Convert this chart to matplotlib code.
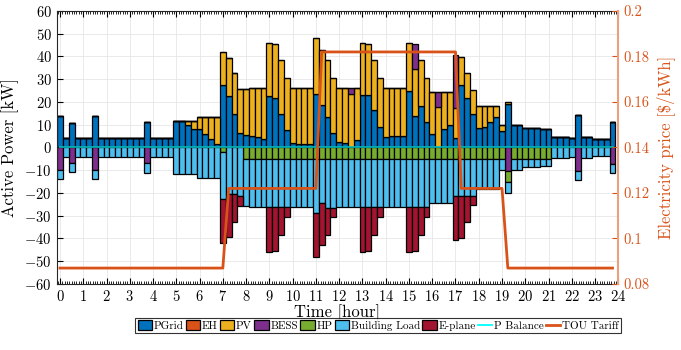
import numpy as np
import matplotlib
matplotlib.use('Agg')
import matplotlib.pyplot as plt
from matplotlib.patches import Patch
from matplotlib.lines import Line2D
from matplotlib.ticker import MultipleLocator, FormatStrFormatter

plt.rcParams['font.family'] = ['cmr10', 'DejaVu Serif']
plt.rcParams['mathtext.fontset'] = 'cm'
plt.rcParams['axes.formatter.use_mathtext'] = True

# 15 min time steps
hours = np.arange(0, 24, 0.25)

# power flows [kW], one row = 2 hours
pgrid = [
    14.0, 4.0, 10.9, 4.0, 4.0, 4.0, 14.0, 4.0,
    4.0, 4.0, 4.0, 4.0, 4.3, 4.3, 4.3, 11.0,
    4.3, 4.3, 4.3, 4.3, 11.6, 11.6, 9.9, 8.1,
    8.0, 5.9, 3.6, 1.4, 27.5, 22.6, 14.6, 6.2,
    5.3, 5.0, 4.5, 3.9, 22.8, 21.9, 14.7, 7.5,
    2.0, 1.5, 1.5, 1.5, 23.4, 18.6, 13.6, 6.2,
    2.3, 2.1, 0.3, 3.3, 22.9, 22.9, 16.5, 9.2,
    4.8, 5.2, 5.2, 5.2, 24.8, 13.8, 18.2, 11.1,
    5.9, 0.3, 8.1, 9.9, 4.0, 27.5, 21.6, 14.6,
    8.4, 9.2, 11.4, 13.3, 7.3, 19.3, 9.9, 9.9,
    8.6, 8.6, 8.6, 8.3, 8.3, 4.5, 4.5, 4.5,
    4.2, 14.3, 4.5, 4.5, 3.9, 3.9, 3.9, 11.2,
]
eh = [
    0, 0, 0, 0, 0, 0, 0, 0,
    0, 0, 0, 0, 0, 0, 0, 0,
    0, 0, 0, 0, 0, 0, 0, 0,
    0, 0, 0, 0, 0, 0, 0, 0,
    0, 0, 0, 0, 0, 0, 0, 0,
    0, 0, 0, 0, 0, 0, 0, 0,
    0, 0, 0, 0, 0, 0, 0, 0,
    0, 0, 0, 0, 0, 0, 0, 0,
    0, 0, 0, 0, 0, 0, 0, 0,
    0, 0, 0, 0, 0, 0, 0, 0,
    0, 0, 0, 0, 0, 0, 0, 0,
    0, 0, 0, 0, 0, 0, 0, 0,
]
pv = [
    0, 0, 0, 0, 0, 0, 0, 0,
    0, 0, 0, 0, 0, 0, 0, 0,
    0, 0, 0, 0, 0, 0, 1.7, 3.5,
    5.3, 7.4, 9.7, 11.9, 14.3, 16.9, 18.0, 19.4,
    20.2, 21.0, 21.5, 22.1, 23.0, 23.4, 23.7, 23.2,
    24.2, 24.7, 24.7, 24.7, 24.9, 24.4, 24.7, 24.3,
    23.9, 24.1, 23.3, 22.9, 22.9, 22.4, 22.0, 21.5,
    21.5, 21.1, 21.1, 21.1, 21.0, 20.8, 20.3, 19.6,
    18.6, 17.3, 16.4, 14.6, 13.3, 12.4, 11.3, 10.7,
    9.8, 9.0, 6.8, 4.9, 2.6, 0.7, 0, 0,
    0, 0, 0, 0, 0, 0, 0, 0,
    0, 0, 0, 0, 0, 0, 0, 0,
]
bess = [
    -10.0, 0, -6.9, 0, 0, 0, -10.0, 0,
    0, 0, 0, 0, 0, 0, 0, -7.0,
    0, 0, 0, 0, 0, 0, 0, 0,
    0, 0, 0, 0, 0, 0, 0, 0,
    0, 0, 0, 0, 0, 0, 0, 0,
    0, 0, 0, 0, 0, 0, 0, 0,
    0, 0, 2.6, 0, 0, 0, 0, 0,
    0, 0, 0, 0, 0, 11.0, 0, 0,
    0, 6.9, 0, 0, 23.4, 0, 0, 0,
    0, 0, 0, 0, 0, -10.3, 0, 0,
    0, 0, 0, 0, 0, 0, 0, 0,
    0, -10.2, 0, 0, 0, 0, 0, -7.2,
]
hp = [
    0, 0, 0, 0, 0, 0, 0, 0,
    0, 0, 0, 0, 0, 0, 0, 0,
    0, 0, 0, 0, 0, 0, 0, 0,
    0, 0, 0, 0, -1.8, 0, 0, 0,
    -5.0, -5.0, -5.0, -5.0, -5.0, -5.0, -5.0, -5.0,
    -5.0, -5.0, -5.0, -5.0, -5.0, -5.0, -5.0, -5.0,
    -5.0, -5.0, -5.0, -5.0, -5.0, -5.0, -5.0, -5.0,
    -5.0, -5.0, -5.0, -5.0, -5.0, -5.0, -5.0, -5.0,
    -5.0, -5.0, -5.0, -5.0, -5.0, -5.0, -5.0, -5.0,
    -5.0, -5.0, -5.0, -5.0, -5.0, -4.7, -5.0, -5.0,
    -5.0, -5.0, -5.0, -5.0, -5.0, 0, 0, 0,
    0, 0, 0, 0, 0, 0, 0, 0,
]
load = [
    -4.0, -4.0, -4.0, -4.0, -4.0, -4.0, -4.0, -4.0,
    -4.0, -4.0, -4.0, -4.0, -4.3, -4.3, -4.3, -4.0,
    -4.3, -4.3, -4.3, -4.3, -11.6, -11.6, -11.6, -11.6,
    -13.3, -13.3, -13.3, -13.3, -21.0, -20.6, -20.6, -21.3,
    -20.5, -21.0, -21.0, -21.0, -21.3, -21.3, -21.3, -21.3,
    -21.2, -21.2, -21.2, -21.2, -23.8, -19.3, -21.4, -21.4,
    -21.2, -21.2, -21.2, -21.2, -21.3, -21.3, -21.3, -21.3,
    -21.3, -21.3, -21.3, -21.3, -21.3, -21.3, -21.3, -21.3,
    -19.5, -19.5, -19.5, -19.5, -16.2, -16.2, -16.2, -16.2,
    -13.2, -13.2, -13.2, -13.2, -4.9, -5.0, -4.9, -4.9,
    -3.6, -3.6, -3.6, -3.3, -3.3, -4.5, -4.5, -4.5,
    -4.2, -4.1, -4.5, -4.5, -3.9, -3.9, -3.9, -4.0,
]
eplane = [
    0, 0, 0, 0, 0, 0, 0, 0,
    0, 0, 0, 0, 0, 0, 0, 0,
    0, 0, 0, 0, 0, 0, 0, 0,
    0, 0, 0, 0, -19.0, -18.9, -12.0, -4.3,
    0, 0, 0, 0, -19.5, -19.0, -12.1, -4.4,
    0, 0, 0, 0, -19.5, -18.7, -11.9, -4.1,
    0, 0, 0, 0, -19.5, -19.0, -12.2, -4.4,
    0, 0, 0, 0, -19.5, -19.3, -12.2, -4.4,
    0, 0, 0, 0, -19.5, -18.7, -11.7, -4.1,
    0, 0, 0, 0, 0, 0, 0, 0,
    0, 0, 0, 0, 0, 0, 0, 0,
    0, 0, 0, 0, 0, 0, 0, 0,
]
# time of use tariff [$/kWh]
tou = [
    0.087, 0.087, 0.087, 0.087, 0.087, 0.087, 0.087, 0.087,
    0.087, 0.087, 0.087, 0.087, 0.087, 0.087, 0.087, 0.087,
    0.087, 0.087, 0.087, 0.087, 0.087, 0.087, 0.087, 0.087,
    0.087, 0.087, 0.087, 0.087, 0.087, 0.122, 0.122, 0.122,
    0.122, 0.122, 0.122, 0.122, 0.122, 0.122, 0.122, 0.122,
    0.122, 0.122, 0.122, 0.122, 0.122, 0.182, 0.182, 0.182,
    0.182, 0.182, 0.182, 0.182, 0.182, 0.182, 0.182, 0.182,
    0.182, 0.182, 0.182, 0.182, 0.182, 0.182, 0.182, 0.182,
    0.182, 0.182, 0.182, 0.182, 0.182, 0.122, 0.122, 0.122,
    0.122, 0.122, 0.122, 0.122, 0.122, 0.087, 0.087, 0.087,
    0.087, 0.087, 0.087, 0.087, 0.087, 0.087, 0.087, 0.087,
    0.087, 0.087, 0.087, 0.087, 0.087, 0.087, 0.087, 0.087,
]

series = [
    ('PGrid', pgrid, '#0072BD'),
    ('EH', eh, '#D95319'),
    ('PV', pv, '#EDB120'),
    ('BESS', bess, '#7E2F8E'),
    ('HP', hp, '#77AC30'),
    ('Building Load', load, '#4DBEEE'),
    ('E-plane', eplane, '#A2142F'),
]
orange = '#D95319'

fig = plt.figure(figsize=(6.81, 3.5), dpi=100)
ax = fig.add_axes([0.0833, 0.1886, 0.8247, 0.780])

pos_base = np.zeros(len(hours))
neg_base = np.zeros(len(hours))
handles = []
for name, vals, col in series:
    v = np.array(vals, dtype=float)
    base = np.where(v >= 0, pos_base, neg_base)
    ax.bar(hours, v, width=0.25, bottom=base, color=col,
           edgecolor='black', linewidth=0.9, zorder=2)
    pos_base += np.clip(v, 0, None)
    neg_base += np.clip(v, None, 0)
    handles.append(Patch(facecolor=col, edgecolor='black', linewidth=0.9, label=name))

# sum of all flows, should sit on zero
ax.plot(hours, pos_base + neg_base, color='#00c8c8', lw=1.4,
        alpha=0.8, zorder=3)
handles.append(Line2D([], [], color='#00ffff', lw=1.3, label='P Balance'))

ax.set_xlim(-0.14, 24)
ax.set_ylim(-60, 60)
ax.set_xticks(range(0, 25))
ax.xaxis.set_minor_locator(MultipleLocator(0.1))
ax.set_yticks(range(-60, 61, 10))
ax.grid(True, which='major', color='#e6e6e6', lw=0.6, zorder=0)
ax.set_axisbelow(True)
ax.tick_params(axis='x', which='both', direction='in', top=True, labelsize=10.5)
ax.tick_params(axis='x', which='major', length=4)
ax.tick_params(axis='x', which='minor', length=2)
ax.tick_params(axis='y', direction='in', length=4, labelsize=10.5)
for s in ['left', 'top', 'bottom']:
    ax.spines[s].set_color('#262626')
    ax.spines[s].set_linewidth(0.8)
ax.spines['right'].set_visible(False)
ax.set_xlabel('Time [hour]', fontsize=12, labelpad=0)
ax.set_ylabel('Active Power [kW]', fontsize=12, labelpad=4)

ax2 = ax.twinx()
ax2.plot(hours, tou, color=orange, lw=2, zorder=4)
ax2.set_ylim(0.08, 0.2)
ax2.set_yticks([0.08, 0.1, 0.12, 0.14, 0.16, 0.18, 0.2])
ax2.yaxis.set_major_formatter(FormatStrFormatter('%g'))
ax2.tick_params(axis='y', direction='in', length=4, colors=orange, labelsize=10.5)
ax2.spines['right'].set_color('#eba07f')
ax2.spines['right'].set_linewidth(1.5)
for s in ['left', 'top', 'bottom']:
    ax2.spines[s].set_visible(False)
ax2.set_ylabel(r'Electricity price [\$/kWh]', color=orange, fontsize=12, labelpad=5)
handles.append(Line2D([], [], color=orange, lw=2, label='TOU Tariff'))

leg = fig.legend(handles=handles, loc='center', ncol=9,
                 bbox_to_anchor=(378 / 681, 1 - 325.5 / 350),
                 fontsize=8, frameon=True, fancybox=False,
                 handlelength=1.3, handleheight=1.0, handletextpad=0.15,
                 columnspacing=0.2, borderpad=0.2, borderaxespad=0)
leg.get_frame().set_edgecolor('black')
leg.get_frame().set_linewidth(0.8)

fig.savefig('out.png', dpi=100)
